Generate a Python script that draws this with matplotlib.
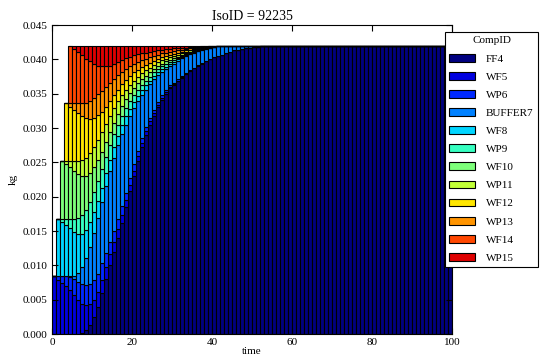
import numpy as np
import matplotlib
matplotlib.use("Agg")
import matplotlib.pyplot as plt

plt.rcParams['font.family'] = ['Liberation Serif', 'DejaVu Serif']

comp_ids = ['FF4', 'WF5', 'WP6', 'BUFFER7', 'WF8', 'WP9',
            'WF10', 'WP11', 'WF12', 'WP13', 'WF14', 'WP15']
n_steps = 100
time = np.arange(n_steps)

# kg per component and time step
ff4 = [0, 0, 0, 0, 0, 0, 0, 0.0002, 0.0006, 0.0013, 0.0025, 0.0040, 0.0060,
       0.0080, 0.0100, 0.0120, 0.0140, 0.0162, 0.0185, 0.0208, 0.0230, 0.0252,
       0.0272, 0.0290, 0.0305, 0.0318, 0.0330, 0.0341, 0.0350, 0.0358, 0.0362,
       0.0368, 0.0373, 0.0378, 0.0383, 0.0387, 0.0391, 0.0394, 0.0397, 0.0400,
       0.0403, 0.0405, 0.0407, 0.0409, 0.0411, 0.0413, 0.0414, 0.0415, 0.0416,
       0.0417, 0.0418, 0.0418, 0.0419, 0.0419] + [0.0420] * 46
wf5 = [0.0084, 0.0079, 0.0075, 0.0070, 0.0064, 0.0057, 0.0049, 0.0042, 0.0036,
       0.0030, 0.0025, 0.0021, 0.0019, 0.0017, 0.0016, 0.0014, 0.0013, 0.0012,
       0.0010, 0.0009, 0.0008, 0.0007, 0.0006, 0.0005, 0.0005, 0.0004, 0.0004,
       0.0003, 0.0003, 0.0002, 0.0002, 0.0001, 0.0001, 0.0001, 0.0001, 0.0,
       0.0001, 0.0001]
wp6 = [0.0, 0.0005, 0.0009, 0.0014, 0.0019, 0.0023, 0.0027, 0.0029, 0.0030,
       0.0030, 0.0029, 0.0027, 0.0024, 0.0021, 0.0018, 0.0016, 0.0014, 0.0012,
       0.0011, 0.0010, 0.0009, 0.0008, 0.0007, 0.0006, 0.0005, 0.0005, 0.0004,
       0.0004, 0.0003, 0.0003, 0.0002, 0.0002, 0.0002, 0.0001, 0.0001, 0.0001]
buffer7 = [0, 0, 0, 0, 0.0001, 0.0005, 0.0013, 0.0024, 0.0038, 0.0054, 0.0068,
           0.0081, 0.0089, 0.0097, 0.0103, 0.0107, 0.0108, 0.0105, 0.0099,
           0.0091, 0.0082, 0.0072, 0.0063, 0.0055, 0.0049, 0.0044, 0.0039,
           0.0034, 0.0030, 0.0027, 0.0028, 0.0027, 0.0026, 0.0025, 0.0023,
           0.0022, 0.0020, 0.0019, 0.0018, 0.0017, 0.0015, 0.0014, 0.0013,
           0.0011, 0.0009, 0.0007, 0.0006, 0.0005, 0.0004, 0.0003, 0.0002,
           0.0002, 0.0001, 0.0001]
wf8 = [0, 0.0084, 0.0079, 0.0075, 0.0070, 0.0064, 0.0057, 0.0049, 0.0042,
       0.0036, 0.0030, 0.0025, 0.0021, 0.0019, 0.0017, 0.0016, 0.0014, 0.0013,
       0.0012, 0.0010, 0.0009, 0.0008, 0.0007, 0.0006, 0.0005, 0.0005, 0.0004,
       0.0004, 0.0003, 0.0003, 0.0002, 0.0002, 0.0001, 0.0001, 0.0001, 0.0001,
       0.0, 0.0001, 0.0001]
wp9 = [0, 0.0, 0.0005, 0.0009, 0.0014, 0.0019, 0.0023, 0.0027, 0.0029, 0.0030,
       0.0030, 0.0029, 0.0027, 0.0024, 0.0021, 0.0018, 0.0016, 0.0014, 0.0012,
       0.0011, 0.0010, 0.0009, 0.0008, 0.0007, 0.0006, 0.0005, 0.0005, 0.0004,
       0.0004, 0.0003, 0.0003, 0.0002, 0.0002, 0.0002, 0.0001, 0.0001, 0.0001]
wf10 = [0, 0, 0.0084, 0.0079, 0.0075, 0.0070, 0.0064, 0.0057, 0.0049, 0.0042,
        0.0036, 0.0030, 0.0025, 0.0021, 0.0019, 0.0017, 0.0016, 0.0014, 0.0013,
        0.0012, 0.0010, 0.0009, 0.0008, 0.0007, 0.0006, 0.0005, 0.0005, 0.0004,
        0.0004, 0.0003, 0.0003, 0.0002, 0.0002, 0.0001, 0.0001, 0.0001, 0.0001,
        0.0, 0.0001, 0.0001]
wp11 = [0, 0, 0.0, 0.0005, 0.0009, 0.0014, 0.0019, 0.0023, 0.0027, 0.0029,
        0.0030, 0.0030, 0.0029, 0.0027, 0.0024, 0.0021, 0.0018, 0.0016, 0.0014,
        0.0012, 0.0011, 0.0010, 0.0009, 0.0008, 0.0007, 0.0006, 0.0005, 0.0005,
        0.0004, 0.0004, 0.0003, 0.0003, 0.0002, 0.0002, 0.0002, 0.0001, 0.0001,
        0.0001]
wf12 = [0, 0, 0, 0.0084, 0.0079, 0.0075, 0.0070, 0.0064, 0.0057, 0.0049,
        0.0042, 0.0036, 0.0030, 0.0025, 0.0021, 0.0019, 0.0017, 0.0016, 0.0014,
        0.0013, 0.0012, 0.0010, 0.0009, 0.0008, 0.0007, 0.0006, 0.0005, 0.0005,
        0.0004, 0.0004, 0.0003, 0.0003, 0.0002, 0.0002, 0.0001, 0.0001, 0.0001,
        0.0001, 0.0, 0.0001, 0.0001]
wp13 = [0, 0, 0, 0.0, 0.0005, 0.0009, 0.0014, 0.0019, 0.0023, 0.0027, 0.0029,
        0.0030, 0.0030, 0.0029, 0.0027, 0.0024, 0.0021, 0.0018, 0.0016, 0.0014,
        0.0012, 0.0011, 0.0010, 0.0009, 0.0008, 0.0007, 0.0006, 0.0005, 0.0005,
        0.0004, 0.0004, 0.0003, 0.0003, 0.0002, 0.0002, 0.0002, 0.0001, 0.0001,
        0.0001]
wf14 = [0, 0, 0, 0, 0.0084, 0.0079, 0.0075, 0.0070, 0.0064, 0.0057, 0.0049,
        0.0042, 0.0036, 0.0030, 0.0025, 0.0021, 0.0019, 0.0017, 0.0016, 0.0014,
        0.0013, 0.0012, 0.0010, 0.0009, 0.0008, 0.0007, 0.0006, 0.0005, 0.0005,
        0.0004, 0.0004, 0.0003, 0.0003, 0.0002, 0.0002, 0.0001, 0.0001, 0.0001,
        0.0001, 0.0, 0.0001, 0.0001]
wp15 = [0, 0, 0, 0, 0.0, 0.0005, 0.0009, 0.0014, 0.0019, 0.0023, 0.0027,
        0.0029, 0.0030, 0.0030, 0.0029, 0.0027, 0.0024, 0.0021, 0.0018, 0.0016,
        0.0014, 0.0012, 0.0011, 0.0010, 0.0009, 0.0008, 0.0007, 0.0006, 0.0005,
        0.0005, 0.0004, 0.0004, 0.0003, 0.0003, 0.0002, 0.0002, 0.0002, 0.0001,
        0.0001, 0.0001]

series = [ff4, wf5, wp6, buffer7, wf8, wp9, wf10, wp11, wf12, wp13, wf14, wp15]


def pad(vals):
    vals = list(vals)
    return np.array(vals + [0.0] * (n_steps - len(vals)))


colors = plt.cm.jet(np.arange(len(comp_ids)) / 12.0)

fig = plt.figure(figsize=(5.41, 3.58), dpi=100)
ax = fig.add_axes([0.0961, 0.0670, 0.7394, 0.863])

bottom = np.zeros(n_steps)
for name, vals, c in zip(comp_ids, series, colors):
    v = pad(vals)
    ax.bar(time, v, width=1.0, align='edge', bottom=bottom, color=c,
           edgecolor='k', linewidth=0.8, label=name)
    bottom = bottom + v

ax.set_xlim(0, 100)
ax.set_ylim(0, 0.045)
ax.set_xticks([0, 20, 40, 60, 80, 100])
ax.set_yticks(np.arange(0, 0.0451, 0.005))
ax.yaxis.set_major_formatter(matplotlib.ticker.FormatStrFormatter('%.3f'))
ax.tick_params(direction='in', top=True, right=True, labelsize=8, length=4,
               pad=3)
ax.set_xlabel('time', fontsize=8, labelpad=0)
ax.set_ylabel('kg', fontsize=8)
ax.set_title('IsoID = 92235', fontsize=10, pad=4)

leg = ax.legend(loc='upper left', bbox_to_anchor=(445 / 541, 1 - 32 / 358),
                bbox_transform=fig.transFigure, title='CompID', fontsize=8,
                title_fontsize=8, fancybox=False, edgecolor='k', framealpha=1,
                labelspacing=0.75, handlelength=2.3, handletextpad=1.0,
                borderaxespad=0)
leg.get_frame().set_linewidth(0.8)

fig.savefig('out.png', dpi=100)
